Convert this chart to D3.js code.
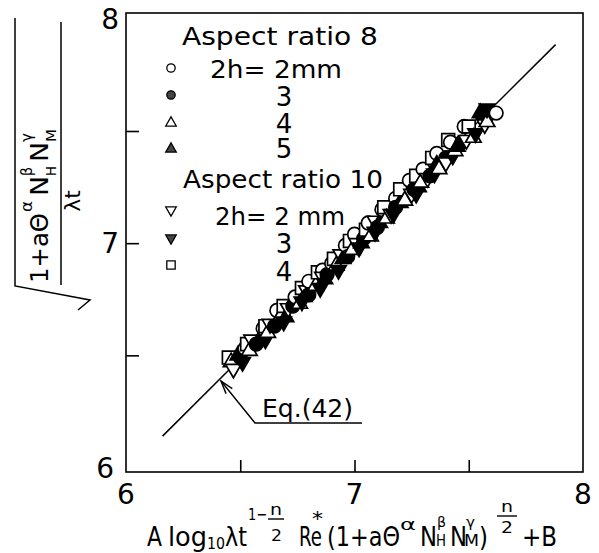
<!DOCTYPE html>
<html><head><meta charset="utf-8">
<script src="https://cdn.jsdelivr.net/npm/d3@7"></script>
<style>
body{margin:0;background:#fff}
svg{display:block}
text{font-family:"DejaVu Sans",sans-serif;fill:#000}
</style>
</head><body>
<svg id="c" width="599" height="553"></svg>
<script>
// ---------- data ----------
const xTickValues = [6.5, 7, 7.5];
const yTickValues = [6.5, 7, 7.5];
const xTickLabels = [6, 7, 8];
const yTickLabels = [6, 7, 8];
const lineX = [6.16, 7.88];
const lineY = [6.14, 7.885];

// Aspect ratio 8, 2h = 2 mm (open circle)
const ar8_2mm_x = [6.52,6.60,6.66,6.74,6.80,6.86,6.90,6.96,7.00,7.06,7.12,7.18,7.24,7.30,7.36,7.42,7.48,7.56,7.62];
const ar8_2mm_y = [6.53,6.62,6.70,6.76,6.83,6.88,6.91,6.99,7.04,7.09,7.15,7.20,7.28,7.33,7.40,7.45,7.52,7.57,7.58];
// Aspect ratio 8, 3 mm (filled circle)
const ar8_3mm_x = [6.50,6.57,6.65,6.73,6.80,6.88,6.97,7.04,7.10,7.18,7.26,7.33,7.40,7.47,7.56];
const ar8_3mm_y = [6.49,6.55,6.63,6.72,6.77,6.86,6.94,7.02,7.07,7.16,7.24,7.30,7.38,7.45,7.57];
// Aspect ratio 8, 4 mm (open triangle)
const ar8_4mm_x = [6.46,6.54,6.62,6.68,6.76,6.83,6.92,6.99,7.07,7.14,7.22,7.29,7.37,7.44,7.52,7.58];
const ar8_4mm_y = [6.47,6.52,6.60,6.68,6.73,6.81,6.90,6.97,7.03,7.11,7.19,7.27,7.33,7.41,7.47,7.54];
// Aspect ratio 8, 5 mm (filled triangle)
const ar8_5mm_x = [6.49,6.59,6.70,6.78,6.87,6.95,7.03,7.11,7.20,7.28,7.36,7.45,7.55];
const ar8_5mm_y = [6.50,6.58,6.67,6.76,6.84,6.93,7.00,7.09,7.18,7.25,7.35,7.43,7.58];
// Aspect ratio 10, 2 mm (open inverted triangle)
const ar10_2mm_x = [6.47,6.55,6.63,6.71,6.79,6.86,6.94,7.01,7.09,7.16,7.25,7.32,7.40,7.49,7.57];
const ar10_2mm_y = [6.44,6.57,6.64,6.71,6.79,6.85,6.95,7.00,7.10,7.13,7.22,7.29,7.36,7.46,7.53];
// Aspect ratio 10, 3 mm (filled inverted triangle)
const ar10_3mm_x = [6.51,6.61,6.69,6.77,6.85,6.93,7.02,7.09,7.17,7.27,7.35,7.43,7.53,7.58];
const ar10_3mm_y = [6.47,6.57,6.65,6.74,6.80,6.88,6.98,7.05,7.13,7.22,7.31,7.39,7.49,7.60];
// Aspect ratio 10, 4 mm (open square)
const ar10_4mm_x = [6.45,6.53,6.61,6.69,6.77,6.84,6.91,6.98,7.05,7.13,7.20,7.27,7.34,7.41,7.50];
const ar10_4mm_y = [6.49,6.55,6.63,6.72,6.80,6.87,6.93,7.01,7.06,7.16,7.24,7.30,7.38,7.46,7.52];

const legendTitles = ["Aspect ratio 8", "Aspect ratio 10"];
const legendLabels8 = ["2h= 2mm", "3", "4", "5"];
const legendLabels10 = ["2h= 2 mm", "3", "4"];
const eqLabel = "Eq.(42)";

// ---------- setup ----------
const svg = d3.select("#c");
const x = d3.scaleLinear().domain([6, 8]).range([126, 583]);
const y = d3.scaleLinear().domain([5.98, 8.026]).range([472, 13]);
const ink = "#000";

const series = [
  {xs: ar8_2mm_x,  ys: ar8_2mm_y,  shape: "circle", filled: false, rot: 0},
  {xs: ar8_3mm_x,  ys: ar8_3mm_y,  shape: "circle", filled: true,  rot: 0},
  {xs: ar8_4mm_x,  ys: ar8_4mm_y,  shape: "tri",    filled: false, rot: 0},
  {xs: ar8_5mm_x,  ys: ar8_5mm_y,  shape: "tri",    filled: true,  rot: 0},
  {xs: ar10_2mm_x, ys: ar10_2mm_y, shape: "tri",    filled: false, rot: 180},
  {xs: ar10_3mm_x, ys: ar10_3mm_y, shape: "tri",    filled: true,  rot: 180},
  {xs: ar10_4mm_x, ys: ar10_4mm_y, shape: "square", filled: false, rot: 0}
];
const symType = {circle: d3.symbolCircle, tri: d3.symbolTriangle, square: d3.symbolSquare};
const bigSize = {circle: 145, tri: 105, square: 165};
const smallSize = {circle: 55, tri: 48, square: 70};

// ---------- frame & ticks ----------
svg.append("rect")
  .attr("x", x(6)).attr("y", y(8.026))
  .attr("width", x(8) - x(6)).attr("height", y(5.98) - y(8.026))
  .attr("fill", "none").attr("stroke", ink).attr("stroke-width", 1.6);

const xAxis = svg.append("g").attr("transform", `translate(0,${y(5.98)})`)
  .call(d3.axisBottom(x).tickValues(xTickValues).tickSize(-12).tickFormat(""));
const yAxis = svg.append("g").attr("transform", `translate(${x(6)},0)`)
  .call(d3.axisLeft(y).tickValues(yTickValues).tickSize(-13).tickFormat(""));
[xAxis, yAxis].forEach(a => {
  a.select(".domain").remove();
  a.selectAll(".tick line").attr("stroke", ink).attr("stroke-width", 1.6);
});

// tick labels
svg.append("g").selectAll("text").data(xTickLabels).join("text")
  .attr("x", d => x(d)).attr("y", 504)
  .attr("text-anchor", "middle").attr("font-size", 28).text(d => d);
svg.append("g").selectAll("text").data(yTickLabels).join("text")
  .attr("x", d => d === 6 ? 114 : 119).attr("y", d => y(d) + 10)
  .attr("text-anchor", "end").attr("font-size", 28).text(d => d);

// ---------- Eq line ----------
svg.append("line")
  .attr("x1", x(lineX[0])).attr("y1", y(lineY[0]))
  .attr("x2", x(lineX[1])).attr("y2", y(lineY[1]))
  .attr("stroke", ink).attr("stroke-width", 1.5);

// ---------- points ----------
const pts = [];
series.forEach(s => s.xs.forEach((v, i) => pts.push({x: v, y: s.ys[i], s})));
pts.sort((a, b) => a.x - b.x);
svg.append("g").selectAll("path").data(pts).join("path")
  .attr("d", d => d3.symbol(symType[d.s.shape], bigSize[d.s.shape])())
  .attr("transform", d => `translate(${x(d.x)},${y(d.y)}) rotate(${d.s.rot})`)
  .attr("fill", d => d.s.filled ? ink : "#fff")
  .attr("stroke", ink).attr("stroke-width", 1.7);

// ---------- legend ----------
const legRowsY = [68, 95, 123, 149, 210, 238, 265];
const lg = svg.append("g");
lg.selectAll("path").data(series).join("path")
  .attr("d", d => d3.symbol(symType[d.shape], smallSize[d.shape])())
  .attr("transform", (d, i) => `translate(171,${legRowsY[i]}) rotate(${d.rot})`)
  .attr("fill", d => d.filled ? "#444" : "#fff")
  .attr("stroke", ink).attr("stroke-width", 1.3);

lg.append("text").attr("x", 182).attr("y", 45).attr("font-size", 24)
  .attr("textLength", 196).attr("lengthAdjust", "spacingAndGlyphs").text(legendTitles[0]);
lg.append("text").attr("x", 183).attr("y", 188).attr("font-size", 24)
  .attr("textLength", 200).attr("lengthAdjust", "spacingAndGlyphs").text(legendTitles[1]);
lg.append("text").attr("x", 210).attr("y", 78).attr("font-size", 24)
  .attr("textLength", 132).attr("lengthAdjust", "spacingAndGlyphs").text(legendLabels8[0]);
legendLabels8.slice(1).forEach((t, i) => {
  lg.append("text").attr("x", 284).attr("y", [106, 133, 158][i])
    .attr("text-anchor", "middle").attr("font-size", 26).text(t);
});
lg.append("text").attr("x", 215).attr("y", 225).attr("font-size", 24)
  .attr("textLength", 130).attr("lengthAdjust", "spacingAndGlyphs").text(legendLabels10[0]);
legendLabels10.slice(1).forEach((t, i) => {
  lg.append("text").attr("x", 284).attr("y", [253, 281][i])
    .attr("text-anchor", "middle").attr("font-size", 26).text(t);
});

// ---------- Eq.(42) annotation ----------
const tip = [221, 381], foot = [255, 423];
svg.append("path")
  .attr("d", `M${tip[0]},${tip[1]} L${foot[0]},${foot[1]} L362,${foot[1]}`)
  .attr("fill", "none").attr("stroke", ink).attr("stroke-width", 1.4);
{
  const dx = foot[0] - tip[0], dy = foot[1] - tip[1], L = Math.hypot(dx, dy);
  const ux = dx / L, uy = dy / L, px = -uy, py = ux;
  const b1 = [tip[0] + 13 * ux + 4 * px, tip[1] + 13 * uy + 4 * py];
  const b2 = [tip[0] + 13 * ux - 4 * px, tip[1] + 13 * uy - 4 * py];
  svg.append("path")
    .attr("d", `M${b1[0]},${b1[1]} L${tip[0]},${tip[1]} L${b2[0]},${b2[1]}`)
    .attr("fill", "none").attr("stroke", ink).attr("stroke-width", 1.4);
}
svg.append("text").attr("x", 262).attr("y", 417).attr("font-size", 25)
  .attr("textLength", 91).attr("lengthAdjust", "spacingAndGlyphs").text(eqLabel);

// ---------- x-axis title ----------
const xt = svg.append("g");
const xPieces = [
  ["A", 147, 546, 27, 15],
  ["log", 168, 546, 27, 39],
  ["10", 207, 549, 16, 18],
  ["λt", 225, 546, 27, 22],
  ["1−", 248, 520, 16, 19],
  ["n", 270, 515, 16, 12],
  ["2", 271, 541, 16, 11],
  ["Re", 299, 546, 27, 23],
  ["*", 312, 525, 19, 11],
  ["(1+aΘ", 327, 546, 27, 73],
  ["α", 400, 530, 16, 16],
  ["N", 420, 546, 27, 17],
  ["β", 437, 527, 14, 9],
  ["H", 436, 546, 15, 10],
  ["N", 450, 546, 27, 17],
  ["γ", 466, 527, 14, 9],
  ["M", 464, 546, 15, 15],
  [")", 479, 546, 27, 9],
  ["n", 501, 512, 16, 12],
  ["2", 501, 533, 16, 12],
  ["+B", 522, 546, 27, 35]
];
xPieces.forEach(p => {
  xt.append("text").attr("x", p[1]).attr("y", p[2]).attr("font-size", p[3])
    .attr("textLength", p[4]).attr("lengthAdjust", "spacingAndGlyphs").text(p[0]);
});
xt.append("line").attr("x1", 268).attr("x2", 284).attr("y1", 519).attr("y2", 519)
  .attr("stroke", ink).attr("stroke-width", 1.4);
xt.append("line").attr("x1", 497).attr("x2", 517).attr("y1", 516).attr("y2", 516)
  .attr("stroke", ink).attr("stroke-width", 1.4);

// ---------- y-axis title (rotated) ----------
const yt = svg.append("g").attr("transform", "rotate(-90)");
// [text, screen y start (bottom), length, screen x baseline, size]
const yPieces = [
  ["1+aΘ", 283, 70, 48, 24],
  ["α", 212, 11, 32, 16],
  ["N", 196, 20, 48, 24],
  ["β", 176, 9, 32, 15],
  ["H", 176, 10, 56, 14],
  ["N", 162, 20, 48, 24],
  ["γ", 142, 9, 32, 15],
  ["M", 142, 13, 56, 14]
];
yPieces.forEach(p => {
  yt.append("text").attr("x", -p[1]).attr("y", p[3]).attr("font-size", p[4])
    .attr("textLength", p[2]).attr("lengthAdjust", "spacingAndGlyphs").text(p[0]);
});
yt.append("text").attr("x", -201).attr("y", 80).attr("font-size", 22)
  .attr("text-anchor", "middle").text("λt");
svg.append("line").attr("x1", 61).attr("x2", 61).attr("y1", 285).attr("y2", 22)
  .attr("stroke", ink).attr("stroke-width", 1.5);
svg.append("path").attr("d", "M78,310 L90,300 L15,286 L15,18")
  .attr("fill", "none").attr("stroke", ink).attr("stroke-width", 1.5);
</script>
</body></html>
